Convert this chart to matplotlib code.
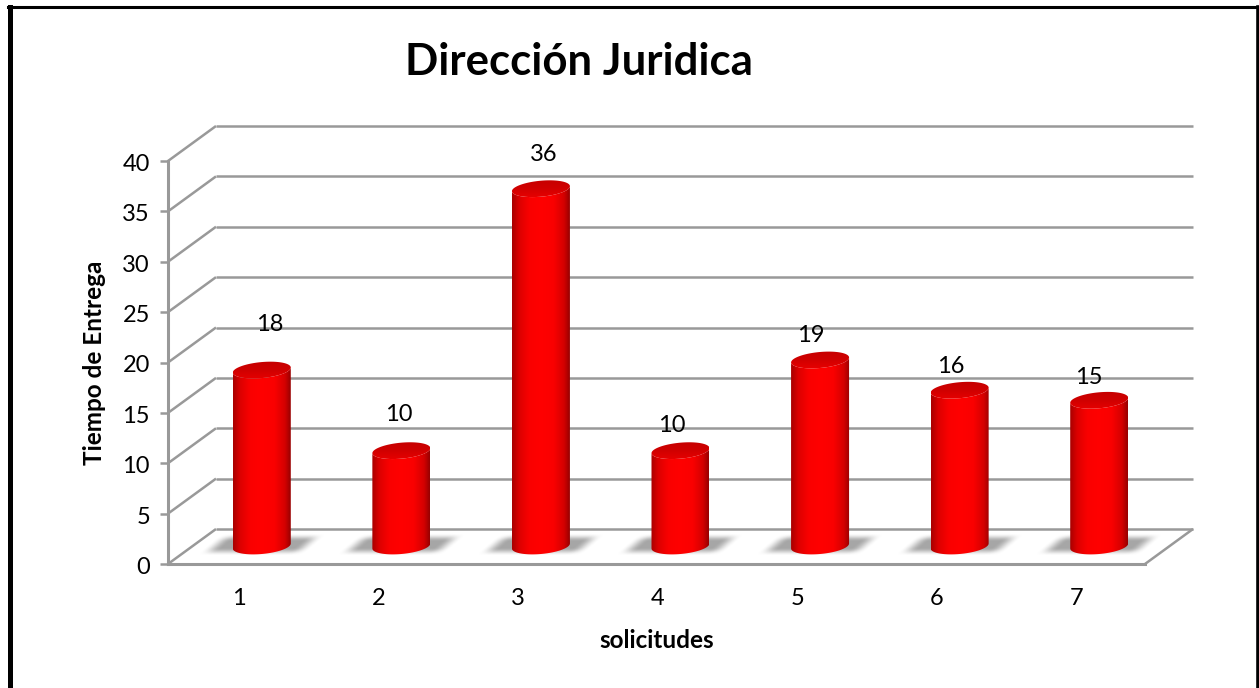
import numpy as np
import matplotlib
matplotlib.use("Agg")
import matplotlib.pyplot as plt
from matplotlib.colors import LinearSegmentedColormap
from matplotlib.patches import PathPatch, Polygon
from matplotlib.path import Path
from matplotlib.transforms import ScaledTranslation

plt.rcParams['font.family'] = ['Lato', 'DejaVu Sans']

categories = ['1', '2', '3', '4', '5', '6', '7']
values = [18, 10, 36, 10, 19, 16, 15]
yticks = [0, 5, 10, 15, 20, 25, 30, 35, 40]
title = 'Dirección Juridica'
xlabel = 'solicitudes'
ylabel = 'Tiempo de Entrega'

W, H = 1259, 688
GRAY = '#999999'
fig = plt.figure(figsize=(W / 100, H / 100), dpi=100, facecolor='white')
ax = fig.add_axes([168 / W, (H - 564) / H, 977 / W, 403 / H])
ax.set_xlim(0.5, 7.5)
ax.set_ylim(0, 40)
ax.patch.set_alpha(0)

# size of one pixel in data units
px = 7 / 977
py = 40 / 403
depth_x = 48 * px
depth_y = 35 * py

# walls and floor of the fake 3d box
line = dict(color=GRAY, lw=1.8, clip_on=False, zorder=1, solid_capstyle='butt')
for t in yticks:
    ax.plot([0.5, 0.5 + depth_x], [t, t + depth_y], **line)
    ax.plot([0.5 + depth_x, 7.5 + depth_x], [t + depth_y, t + depth_y], **line)
ax.plot([7.5, 7.5 + depth_x], [0, depth_y], **line)

for s in ['top', 'right']:
    ax.spines[s].set_visible(False)
for s in ['left', 'bottom']:
    ax.spines[s].set_color(GRAY)
    ax.spines[s].set_linewidth(2.2)
ax.set_xticks(range(1, 8))
ax.set_xticklabels(categories, fontsize=17)
ax.set_yticks(yticks)
ax.tick_params(axis='y', length=6, width=1.8, color=GRAY, labelsize=17, pad=7)
ax.tick_params(axis='x', length=0, pad=17)
shift = ScaledTranslation(1 / 100, 0, fig.dpi_scale_trans)
for lab in ax.get_xticklabels():
    lab.set_transform(lab.get_transform() + shift)
down = ScaledTranslation(0, -1.5 / 100, fig.dpi_scale_trans)
for lab in ax.get_yticklabels():
    lab.set_transform(lab.get_transform() + down)

cyl = LinearSegmentedColormap.from_list(
    'cyl', [(0, '#a80000'), (0.12, '#dc0000'), (0.3, '#fa0000'), (0.5, '#ff0000'),
            (0.72, '#fa0000'), (0.9, '#d40000'), (1, '#980000')])
cap = LinearSegmentedColormap.from_list('cap', ['#c40000', '#d00000', '#ea0000'])

half_w = 29 * px
bar_dx = 24 * px
base_y = 18 * py
top_gain = 1.25
ell_h = 8 * py
ell_tilt = 2.5 * py

# label offsets from the top of each bar, pixels
label_dx = [8, -3, 3, -9, -9, -9, -10]
label_dy = [46, 36, 34, 25, 24, 24, 23]


def ellipse(cx, cy, a, b, tilt, t):
    return cx + a * np.cos(t), cy + b * np.sin(t) + tilt * np.cos(t)


def soft(d):
    d = np.clip(d, 0, 1)
    return d * d * (3 - 2 * d)


for i, v in enumerate(values):
    cx = i + 1 + bar_dx
    top = v + top_gain

    # blurred shadow on the floor
    gx = np.linspace(cx - 80 * px, cx + 80 * px, 160)
    gy = np.linspace(base_y - 15 * py, base_y + 15 * py, 60)
    xx, yy = np.meshgrid(gx, gy)
    w = (yy - base_y - 1 * py) / py
    u = (xx - cx) / px - w * 1.2
    alpha = soft((54 - np.abs(u)) / 18) * soft((11 - np.abs(w)) / 8) * 0.6
    rgba = np.zeros(alpha.shape + (4,))
    rgba[..., :3] = 0.42
    rgba[..., 3] = alpha
    ax.imshow(rgba, extent=[gx[0], gx[-1], gy[0], gy[-1]], origin='lower', aspect='auto',
              interpolation='bilinear', zorder=2, clip_on=False)

    # cylinder body
    t = np.linspace(np.pi, 2 * np.pi, 60)
    bx, by = ellipse(cx, base_y, half_w, ell_h, ell_tilt, t)
    tx, ty = ellipse(cx, top, half_w, ell_h, ell_tilt, t[::-1])
    body = Polygon(np.column_stack([np.r_[bx, tx], np.r_[by, ty]]), closed=True,
                   facecolor='none', edgecolor='none', transform=ax.transData)
    ax.add_patch(body)
    im = ax.imshow(np.linspace(0, 1, 128).reshape(1, -1), cmap=cyl,
                   extent=[cx - half_w, cx + half_w, 0, top + 1], origin='lower',
                   aspect='auto', interpolation='bilinear', zorder=3)
    im.set_clip_path(body)

    # cap, darker at the back and lighter at the front rim
    t = np.linspace(0, 2 * np.pi, 90)
    ox, oy = ellipse(cx, top, half_w, ell_h, ell_tilt, t)
    rim = PathPatch(Path(np.column_stack([ox, oy])), facecolor='none', edgecolor='none',
                    transform=ax.transData)
    ax.add_patch(rim)
    im2 = ax.imshow(np.linspace(1, 0, 32).reshape(-1, 1), cmap=cap,
                    extent=[cx - half_w, cx + half_w, top - ell_h - ell_tilt, top + ell_h + ell_tilt],
                    origin='lower', aspect='auto', interpolation='bilinear', zorder=4)
    im2.set_clip_path(rim)

    ax.text(cx + label_dx[i] * px, top + label_dy[i] * py, str(v), ha='center', va='center',
            fontsize=17, color='black', zorder=6)

ax.set_xlim(0.5, 7.5)
ax.set_ylim(0, 40)

fig.text(579 / W, 1 - 62 / H, title, ha='center', va='center', fontsize=31.5, fontweight='bold')
fig.text(657 / W, 1 - 640 / H, xlabel, ha='center', va='center', fontsize=17.5, fontweight='bold')
fig.text(95 / W, 1 - 363 / H, ylabel, ha='center', va='center', rotation=90, fontsize=17.5, fontweight='bold')

# outer frame, open at the bottom
fig.add_artist(plt.Line2D([10.5 / W, 10.5 / W], [0, 1 - 7 / H], color='black', lw=3.6))
fig.add_artist(plt.Line2D([8 / W, 1257 / W], [1 - 7 / H, 1 - 7 / H], color='black', lw=2.2))
fig.add_artist(plt.Line2D([1257.5 / W, 1257.5 / W], [0, 1 - 7 / H], color='black', lw=2.6))

fig.savefig('out.png', dpi=100)
